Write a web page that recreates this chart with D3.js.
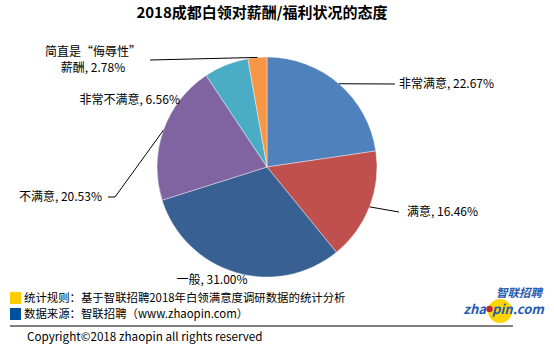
<!DOCTYPE html>
<html><head><meta charset="utf-8">
<script src="https://cdn.jsdelivr.net/npm/d3@7"></script>
<style>body{margin:0;background:#fff}svg{display:block}text{font-family:"Noto Sans CJK SC","Noto Sans",sans-serif}</style>
</head><body>
<script>
const title = "2018成都白领对薪酬/福利状况的态度";
const categories = ["非常满意","满意","一般","不满意","非常不满意","简直是“侮辱性”薪酬"];
const values = [22.67,16.46,31.00,20.53,6.56,2.78];
const colors = ["#4F81BD","#C0504D","#386092","#8064A2","#4BACC6","#F79646"];
const notes = ["统计规则：基于智联招聘2018年白领满意度调研数据的统计分析","数据来源：智联招聘（www.zhaopin.com）"];
const noteColors = ["#FFCC00","#0050A0"];
const copyright = "Copyright©2018 zhaopin all rights reserved";

const W=554,H=352;
const svg=d3.select("body").append("svg").attr("width",W).attr("height",H);
svg.append("text").attr("x",262).attr("y",18).attr("text-anchor","middle")
  .attr("font-size",15).attr("font-weight","bold").text(title);

const cx=267,cy=167,R=110;
const g=svg.append("g").attr("transform",`translate(${cx},${cy})`);
const pie=d3.pie().sort(null).value(d=>d)(values);
const arc=d3.arc().innerRadius(0).outerRadius(R);
g.selectAll("path").data(pie).join("path").attr("d",arc)
  .attr("fill",(d,i)=>colors[i]).attr("stroke","#fff").attr("stroke-width",0.4);

const layout=[
  {x:399,y:84,a:"start",pts:[[395,84]]},
  {x:407,y:212,a:"start",pts:[[399,212]]},
  {x:212,y:280,a:"middle",pts:null},
  {x:102,y:197,a:"end",pts:[[115,197],[108,197]]},
  {x:180,y:100,a:"end",pts:null},
  {x:93,y:53,a:"middle",pts:[[150,60]],two:true}
];
const fmt=v=>v.toFixed(2)+"%";
pie.forEach((d,i)=>{
  const L=layout[i];
  const m=(d.startAngle+d.endAngle)/2;
  const p=[cx+R*Math.sin(m),cy-R*Math.cos(m)];
  if(L.pts){
    svg.append("path").attr("d",d3.line()([p,...L.pts])).attr("fill","none").attr("stroke","#000").attr("stroke-width",1);
  }
  if(L.two){
    svg.append("text").attr("font-size",12).attr("text-anchor",L.a).attr("x",L.x).attr("y",L.y+3).text(categories[i].slice(0,8));
    svg.append("text").attr("font-size",12).attr("text-anchor",L.a).attr("x",L.x).attr("y",L.y+19).text(categories[i].slice(8)+", "+fmt(values[i]));
  } else {
    svg.append("text").attr("x",L.x).attr("y",L.y+4).attr("font-size",12).attr("text-anchor",L.a)
      .text(categories[i]+", "+fmt(values[i]));
  }
});

notes.forEach((n,i)=>{
  svg.append("rect").attr("x",10).attr("y",292+i*16).attr("width",11).attr("height",12).attr("fill",noteColors[i]);
  svg.append("text").attr("x",24).attr("y",302+i*16).attr("font-size",11.4).text(n);
});
svg.append("line").attr("x1",10).attr("x2",513).attr("y1",326).attr("y2",326).attr("stroke","#000").attr("stroke-width",1);
svg.append("text").attr("x",27).attr("y",341).attr("font-size",11.7).attr("font-family","DejaVu Sans").text(copyright);

const lg=svg.append("g");
lg.append("circle").attr("cx",500).attr("cy",311).attr("r",12).attr("fill","#FFD400");
lg.append("text").attr("x",542).attr("y",297).attr("text-anchor","end").attr("font-size",11.5).attr("font-weight","bold")
  .attr("font-style","italic").attr("fill","#1F5BB0").text("智联招聘");
const zf={"font-size":13,"font-weight":"bold","font-style":"italic","font-family":"DejaVu Sans","fill":"#1F5BB0"};
const t1=lg.append("text").attr("x",486).attr("y",314).attr("text-anchor","end").text("zha");
const t2=lg.append("text").attr("x",492).attr("y",314).attr("text-anchor","start").text("pin.com");
[t1,t2].forEach(t=>Object.entries(zf).forEach(([k,v])=>t.attr(k,v)));
lg.append("circle").attr("cx",489.5).attr("cy",309).attr("r",3.2).attr("fill","#C0282D");
</script>
</body></html>
